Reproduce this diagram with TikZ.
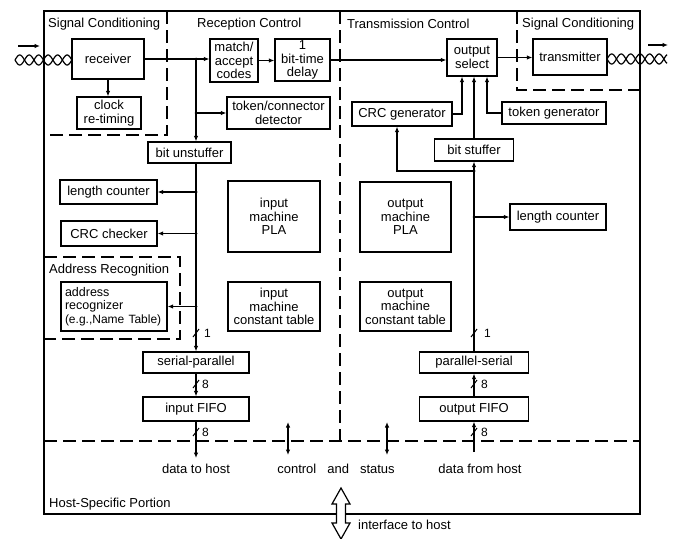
\documentclass[tikz,border=0pt]{standalone}
\usepackage{fontspec}
\setmainfont{Liberation Sans}
\usetikzlibrary{arrows.meta}
\begin{document}
\begin{tikzpicture}[x=1pt,y=-1pt,
  every node/.style={font=\fontsize{13}{13.5}\selectfont},
  box/.style={draw, line width=1.2pt, inner sep=1pt, align=center},
  ln/.style={line width=1.2pt},
  arr/.style={line width=1.2pt, -{Latex[length=5.5pt,width=4.5pt]}},
  darr/.style={line width=1.2pt, {Latex[length=5.5pt,width=4.5pt]}-{Latex[length=5.5pt,width=4.5pt]}},
  dsh/.style={line width=1.2pt, dash pattern=on 13pt off 6pt},
  lbl/.style={anchor=west, inner sep=0pt},
  small/.style={anchor=west, inner sep=0pt, font=\fontsize{12}{12}\selectfont},
  tick/.style={line width=1pt},
  dot/.style={fill=black}
]
\useasboundingbox (0,0) rectangle (676,538);

% outer frame and region borders
\draw[ln] (44,11) rectangle (640,514);
\draw[dsh] (167,11) -- (167,135) -- (44,135);
\draw[dsh] (517,11) -- (517,90) -- (640,90);
\draw[dsh] (340,11) -- (340,441);
\draw[dsh] (44,441) -- (640,441);
\draw[dsh] (44,257) -- (180,257) -- (180,339) -- (44,339);

% titles
\node[lbl] (t1) at (48,24) {Signal Conditioning};
\node[lbl] (t2) at (197,24) {Reception Control};
\node[lbl] (t3) at (347,24) {Transmission Control};
\node[lbl] (t4) at (522,24) {Signal Conditioning};
\node[lbl] (t5) at (49,270) {Address Recognition};
\node[lbl] (t6) at (49,504) {Host-Specific Portion};

% boxes - reception side
\node[box, minimum width=72pt, minimum height=40pt] (rx) at (108,59) {receiver};
\node[box, minimum width=64pt, minimum height=32pt] (clk) at (109,113) {clock\\re-timing};
\node[box, minimum width=48pt, minimum height=43pt] (match) at (234,60.5) {match/\\accept\\codes};
\node[box, minimum width=55pt, minimum height=42pt] (delay) at (302.5,60) {1\\bit-time\\delay};
\node[box, minimum width=103pt, minimum height=32pt] (tok) at (278.5,113) {token/connector\\detector};
\node[box, minimum width=83pt, minimum height=21pt] (unst) at (189.5,152.5) {bit unstuffer};
\node[box, minimum width=97pt, minimum height=24pt] (lenL) at (108.5,192) {length counter};
\node[box, minimum width=96pt, minimum height=25pt] (crcc) at (109,233.5) {CRC checker};
\node[box, minimum width=106pt, minimum height=49pt, text width=98pt, align=left, inner sep=4pt,
      font=\fontsize{12.5}{13.5}\selectfont] (addr) at (114,306.5) {address\\recognizer\\{\fontsize{12}{13.5}\selectfont(e.g.,Name Table)}};
\node[box, minimum width=92pt, minimum height=71pt] (ipla) at (274,216.5) {input\\machine\\PLA};
\node[box, minimum width=92pt, minimum height=49pt] (ict) at (274,306.5) {input\\machine\\constant table};
\node[box, minimum width=106pt, minimum height=21pt] (sp) at (196,362.5) {serial-parallel};
\node[box, minimum width=106pt, minimum height=24pt] (ififo) at (196,409) {input FIFO};

% boxes - transmission side
\node[box, minimum width=91pt, minimum height=70pt] (opla) at (405.5,217) {output\\machine\\PLA};
\node[box, minimum width=91pt, minimum height=49pt] (oct) at (405.5,306.5) {output\\machine\\constant table};
\node[box, minimum width=109pt, minimum height=21pt] (ps) at (474,362.5) {parallel-serial};
\node[box, minimum width=109pt, minimum height=24pt] (ofifo) at (474,409) {output FIFO};
\node[box, minimum width=96pt, minimum height=26pt] (lenR) at (558,217) {length counter};
\node[box, minimum width=100pt, minimum height=24pt] (crcg) at (402,114) {CRC generator};
\node[box, minimum width=50pt, minimum height=37pt] (osel) at (472,57.5) {output\\select};
\node[box, minimum width=74pt, minimum height=36pt] (tx) at (570,57) {transmitter};
\node[box, minimum width=104pt, minimum height=22pt] (tgen) at (554,113) {token generator};
\node[box, minimum width=79pt, minimum height=22pt] (stuf) at (474,150) {bit stuffer};

% twisted pairs and direction arrows
\draw[ln] plot[domain=15:72, samples=120] (\x, {60+5*sin(19*(\x-15))});
\draw[ln] plot[domain=15:72, samples=120] (\x, {60-5*sin(19*(\x-15))});
\draw[ln] plot[domain=607:667, samples=120] (\x, {59+5*sin(19*(\x-607))});
\draw[ln] plot[domain=607:667, samples=120] (\x, {59-5*sin(19*(\x-607))});
\coordinate (inA) at (18,46); \coordinate (inB) at (40,46);
\draw[arr] (inA) -- (inB);
\coordinate (outA) at (648,45); \coordinate (outB) at (668,45);
\draw[arr] (outA) -- (outB);

% reception connectors
\coordinate (jA) at (196,59);
\coordinate (jB) at (196,113);
\draw[arr] (rx.east) -- (rx.east -| match.west);
\draw[arr] (rx.south) -- (rx.south |- clk.north);
\draw[arr] (jA) -- (jA |- unst.north);
\draw[arr] (jB) -- (jB -| tok.west);
\draw[arr] (match.east) -- (match.east -| delay.west);
\draw[arr] (delay.east) -- (delay.east -| osel.west);
\draw[arr] (osel.east) -- (osel.east -| tx.west);
\fill[dot] (jA) circle (1.5pt);
\fill[dot] (jB) circle (1.5pt);

\coordinate (jC) at (jA |- lenL.east);
\coordinate (jD) at (jA |- crcc.east);
\coordinate (jE) at (jA |- addr.east);
\draw[arr] (jA |- unst.south) -- (jA |- sp.north);
\draw[arr] (jC) -- (lenL.east);
\draw[arr] (jD) -- (crcc.east);
\draw[arr] (jE) -- (addr.east);
\fill[dot] (jC) circle (1.5pt);
\fill[dot] (jD) circle (1.5pt);
\fill[dot] (jE) circle (1.5pt);
\draw[tick] (193,337) -- (199,329);
\node[small] (n1) at (204,333) {1};

\draw[arr] (sp.south) -- (ififo.north);
\draw[tick] (193,388) -- (199,380);
\node[small] (n2) at (202,384) {8};
\coordinate (dth) at (196,458);
\draw[arr] (ififo.south) -- (dth);
\draw[tick] (193,436) -- (199,428);
\node[small] (n3) at (202,432) {8};
\node (dtht) at (196,469) {data to host};

% control and status
\coordinate (cs1a) at (288,422); \coordinate (cs1b) at (288,455);
\coordinate (cs2a) at (387,422); \coordinate (cs2b) at (387,455);
\draw[darr] (cs1a) -- (cs1b);
\draw[darr] (cs2a) -- (cs2b);
\node (cst) at (336,469) {control\hspace{11pt}and\hspace{11pt}status};

% transmission connectors
\coordinate (dfh) at (474,452);
\draw[arr] (dfh) -- (ofifo.south);
\draw[tick] (471,436) -- (477,428);
\node[small] (n4) at (481,432) {8};
\draw[arr] (ofifo.north) -- (ps.south);
\draw[tick] (471,388) -- (477,380);
\node[small] (n5) at (481,384) {8};
\node (dfht) at (480,469) {data from host};

\draw[arr] (ps.north) -- (stuf.south);
\draw[tick] (471,337) -- (477,329);
\node[small] (n6) at (484,333) {1};
\coordinate (jF) at (474,171);
\coordinate (jG) at (jF |- lenR.west);
\draw[arr] (jF) -| ([xshift=-5pt]crcg.south);
\draw[arr] (jG) -- (lenR.west);
\fill[dot] (jF) circle (1.5pt);
\fill[dot] (jG) circle (1.5pt);
\draw[arr] (stuf.north) -- (stuf.north |- osel.south);
\draw[arr] (crcg.east) -| ([xshift=-10pt]osel.south);
\draw[arr] (tgen.west) -| ([xshift=15pt]osel.south);

% interface to host (hollow double arrow)
\draw[ln, fill=white] (341,488) -- (350,504) -- (345.5,504) -- (345.5,523) -- (350,523)
  -- (341,539) -- (332,523) -- (336.5,523) -- (336.5,504) -- (332,504) -- cycle;
\node[lbl] (ith) at (358,525) {interface to host};
\end{tikzpicture}
\end{document}
